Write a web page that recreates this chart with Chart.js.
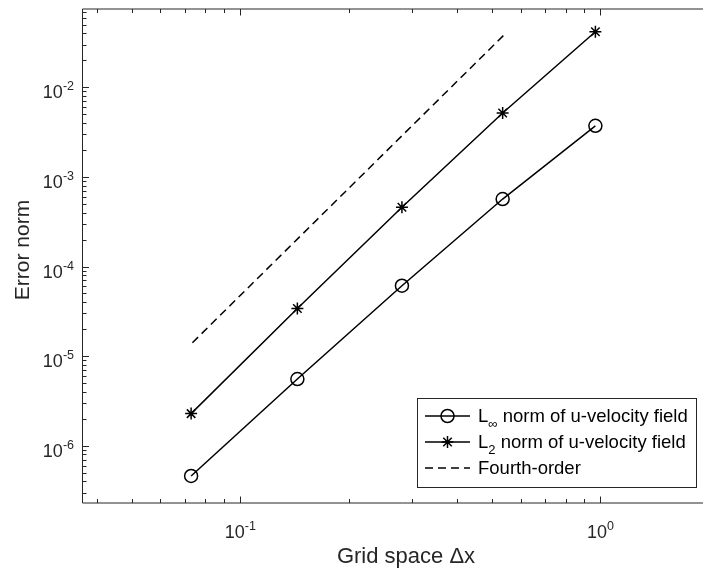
<!DOCTYPE html>
<html><head><meta charset="utf-8">
<script src="https://cdn.jsdelivr.net/npm/chart.js@4/dist/chart.umd.min.js"></script>
<style>
html,body{margin:0;padding:0;overflow:hidden;background:#fff;width:703px;height:570px}
#c{position:absolute;left:0;top:0}
</style>
</head><body><canvas id="c" width="730" height="570"></canvas>
<script>
// ---- data ----
const gridSpacing = [0.0730, 0.144, 0.281, 0.535, 0.968];
const linfNorm    = [4.59e-7, 5.55e-6, 6.10e-5, 5.66e-4, 3.72e-3];
const l2Norm      = [2.28e-6, 3.40e-5, 4.58e-4, 5.16e-3, 4.17e-2];
const refX        = [0.0736, 0.538];
const refY        = [1.41e-5, 3.79e-2];
const xMajorTicks = [0.1, 1];
const xTickExp    = ['-1', '0'];
const yMajorTicks = [1e-2, 1e-3, 1e-4, 1e-5, 1e-6];
const yTickExp    = ['-2', '-3', '-4', '-5', '-6'];
const xLimits     = [0.03645, 2.175];
const yLimits     = [2.293e-7, 0.07482];
const xTitle      = 'Grid space \u0394x';
const yTitle      = 'Error norm';
const legendNames = [['L', '\u221e', ' norm of u-velocity field'], ['L', '2', ' norm of u-velocity field'], ['', '', 'Fourth-order']];

const FONT = '"Liberation Sans", Arial, Helvetica, sans-serif';
const AX = '#262626';

function minorTicks(lo, hi) {
  const out = [];
  for (let e = Math.floor(Math.log10(lo)) - 1; e <= Math.ceil(Math.log10(hi)); e++) {
    for (let m = 2; m <= 9; m++) {
      const v = m * Math.pow(10, e);
      if (v > lo && v < hi) out.push(v);
    }
  }
  return out;
}

const decor = {
  id: 'decor',
  afterDraw(chart) {
    const ctx = chart.ctx, xs = chart.scales.x, ys = chart.scales.y, a = chart.chartArea;
    ctx.save();
    ctx.strokeStyle = AX; ctx.lineWidth = 1;
    ctx.beginPath();
    ctx.rect(a.left, a.top, a.right - a.left, a.bottom - a.top);
    ctx.stroke();
    const MAJ = 6.5, MIN = 4;
    ctx.beginPath();
    minorTicks(xLimits[0], xLimits[1]).forEach(v => { const p = Math.round(xs.getPixelForValue(v)) + 0.5;
      ctx.moveTo(p, a.bottom); ctx.lineTo(p, a.bottom - MIN);
      ctx.moveTo(p, a.top); ctx.lineTo(p, a.top + MIN); });
    xMajorTicks.forEach(v => { const p = Math.round(xs.getPixelForValue(v)) + 0.5;
      ctx.moveTo(p, a.bottom); ctx.lineTo(p, a.bottom - MAJ);
      ctx.moveTo(p, a.top); ctx.lineTo(p, a.top + MAJ); });
    minorTicks(yLimits[0], yLimits[1]).forEach(v => { const p = Math.round(ys.getPixelForValue(v)) + 0.5;
      ctx.moveTo(a.left, p); ctx.lineTo(a.left + MIN, p);
      ctx.moveTo(a.right, p); ctx.lineTo(a.right - MIN, p); });
    yMajorTicks.forEach(v => { const p = Math.round(ys.getPixelForValue(v)) + 0.5;
      ctx.moveTo(a.left, p); ctx.lineTo(a.left + MAJ, p);
      ctx.moveTo(a.right, p); ctx.lineTo(a.right - MAJ, p); });
    ctx.stroke();

    // tick labels
    ctx.fillStyle = AX;
    const baseF = '18px ' + FONT, expF = '12.5px ' + FONT;
    xMajorTicks.forEach((v, i) => {
      const p = xs.getPixelForValue(v);
      ctx.font = baseF; const w1 = ctx.measureText('10').width;
      ctx.font = expF; const w2 = ctx.measureText(xTickExp[i]).width;
      const x0 = p - (w1 + w2) / 2;
      ctx.textAlign = 'left'; ctx.textBaseline = 'alphabetic';
      ctx.font = baseF; ctx.fillText('10', x0, a.bottom + 35);
      ctx.font = expF; ctx.fillText(xTickExp[i], x0 + w1, a.bottom + 27);
    });
    yMajorTicks.forEach((v, i) => {
      const p = ys.getPixelForValue(v);
      ctx.font = expF; const w2 = ctx.measureText(yTickExp[i]).width;
      ctx.font = baseF; const w1 = ctx.measureText('10').width;
      const xr = a.left - 8.5;
      ctx.textAlign = 'left'; ctx.textBaseline = 'alphabetic';
      ctx.font = baseF; ctx.fillText('10', xr - w2 - w1, p + 11);
      ctx.font = expF; ctx.fillText(yTickExp[i], xr - w2, p + 3);
    });

    // axis titles
    ctx.font = '22px ' + FONT; ctx.textAlign = 'center'; ctx.textBaseline = 'middle';
    ctx.fillText(xTitle, 406, 557);
    ctx.font = '21px ' + FONT;
    ctx.save(); ctx.translate(23, 250); ctx.rotate(-Math.PI / 2);
    ctx.fillText(yTitle, 0, 0); ctx.restore();

    // legend
    const bx = 417.5, by = 398.5, bw = 279, bh = 89;
    ctx.fillStyle = '#fff'; ctx.fillRect(bx, by, bw, bh);
    ctx.strokeStyle = AX; ctx.lineWidth = 1; ctx.strokeRect(bx, by, bw, bh);
    const rows = [416, 442, 468];
    const ds = chart.data.datasets;
    rows.forEach((ry, i) => {
      const d = ds[i];
      ctx.strokeStyle = '#000'; ctx.lineWidth = 1.5;
      ctx.setLineDash(d.borderDash || []);
      ctx.beginPath(); ctx.moveTo(425, ry); ctx.lineTo(470, ry); ctx.stroke();
      ctx.setLineDash([]);
      if (d.pointStyle === 'circle') {
        ctx.beginPath(); ctx.arc(447.5, ry, 6.5, 0, Math.PI * 2); ctx.stroke();
      } else if (d.pointStyle === 'star') {
        const r = 6; ctx.beginPath();
        for (let k = 0; k < 4; k++) { const t = k * Math.PI / 4;
          ctx.moveTo(447.5 - r * Math.cos(t), ry - r * Math.sin(t));
          ctx.lineTo(447.5 + r * Math.cos(t), ry + r * Math.sin(t)); }
        ctx.stroke();
      }
      ctx.fillStyle = '#000'; ctx.textAlign = 'left'; ctx.textBaseline = 'alphabetic';
      const n = legendNames[i]; let tx = 478;
      ctx.font = '18.5px ' + FONT;
      if (n[0]) { ctx.fillText(n[0], tx, ry + 6); tx += ctx.measureText(n[0]).width; }
      if (n[1]) { ctx.font = '13px ' + FONT; ctx.fillText(n[1], tx, ry + 12); tx += ctx.measureText(n[1]).width; }
      ctx.font = '18.5px ' + FONT; ctx.fillText(n[2], tx, ry + 6);
    });
    ctx.restore();
  }
};

const pts = (xa, ya) => xa.map((x, i) => ({ x: x, y: ya[i] }));

new Chart(document.getElementById('c'), {
  type: 'scatter',
  data: {
    datasets: [
      { label: 'L_inf norm of u-velocity field', data: pts(gridSpacing, linfNorm), showLine: true,
        borderColor: '#000', borderWidth: 1.5, pointStyle: 'circle', pointRadius: 6.5,
        pointBorderWidth: 1.5, pointBorderColor: '#000', pointBackgroundColor: 'rgba(0,0,0,0)' },
      { label: 'L2 norm of u-velocity field', data: pts(gridSpacing, l2Norm), showLine: true,
        borderColor: '#000', borderWidth: 1.5, pointStyle: 'star', pointRadius: 6,
        pointBorderWidth: 1.5, pointBorderColor: '#000', pointBackgroundColor: 'rgba(0,0,0,0)' },
      { label: 'Fourth-order', data: pts(refX, refY), showLine: true, borderDash: [8, 5],
        borderColor: '#000', borderWidth: 1.5, pointRadius: 0 }
    ]
  },
  options: {
    responsive: false, animation: false,
    layout: { padding: { left: 82.5, top: 9, right: 2.5, bottom: 67 } },
    plugins: { legend: { display: false }, tooltip: { enabled: false } },
    scales: {
      x: { type: 'logarithmic', min: xLimits[0], max: xLimits[1],
        ticks: { display: false }, grid: { display: false }, border: { display: false },
        afterFit: s => { s.height = 0; } },
      y: { type: 'logarithmic', min: yLimits[0], max: yLimits[1],
        ticks: { display: false }, grid: { display: false }, border: { display: false },
        afterFit: s => { s.width = 0; } }
    }
  },
  plugins: [decor]
});
</script>
</body></html>
